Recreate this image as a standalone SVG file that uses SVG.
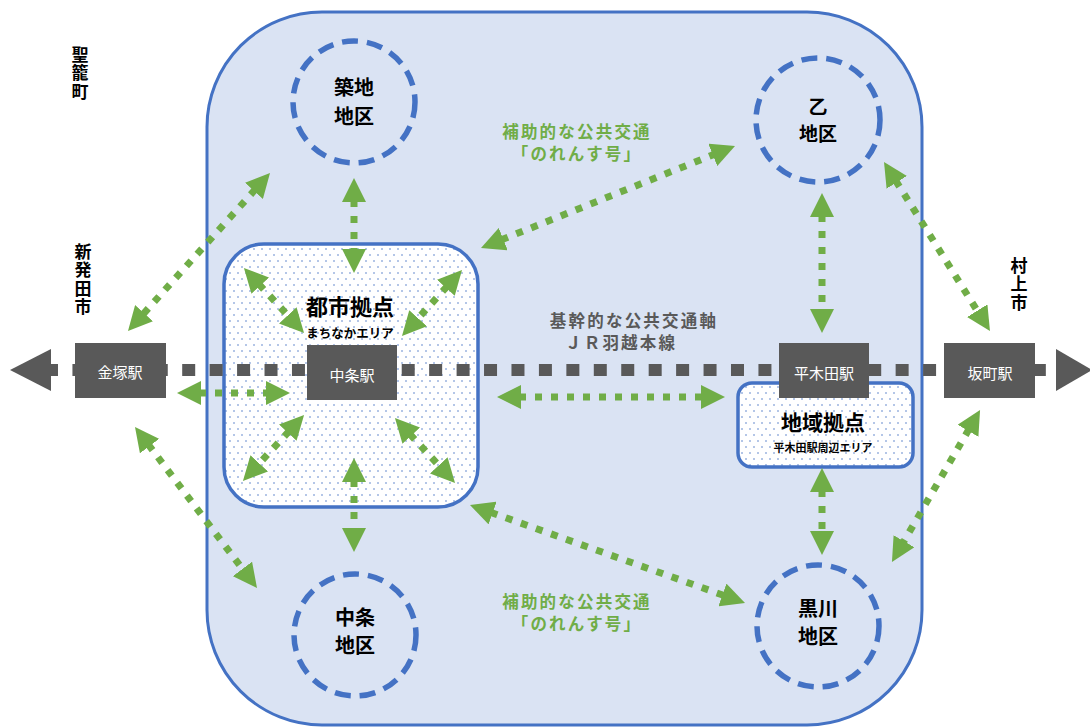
<svg xmlns="http://www.w3.org/2000/svg" width="1090" height="727" viewBox="0 0 1090 727">
<style>
.t{font-family:"Noto Sans CJK JP","Noto Sans",sans-serif;font-weight:bold;text-anchor:middle}
.blk{fill:#000}
.grn{fill:#70AD47}
.gry{fill:#595959}
.wht{fill:#fff;font-weight:normal}
.vt{writing-mode:vertical-rl;letter-spacing:1.5px}
.ls{letter-spacing:2.2px}
.area{fill:#DAE3F3;stroke:#4472C4;stroke-width:3}
.hub{fill:url(#dots);stroke:#4472C4;stroke-width:3.5}
.dist{fill:none;stroke:#4472C4;stroke-width:5.5;stroke-dasharray:16 9}
.stn{fill:#595959}
.ga{stroke:#70AD47;stroke-width:7;stroke-dasharray:7 9;fill:none;marker-start:url(#gh);marker-end:url(#gh)}
</style>
<defs>
<pattern id="dots" width="8" height="12" patternUnits="userSpaceOnUse">
<rect width="8" height="12" fill="#fff"/>
<circle cx="2" cy="3" r="0.75" fill="#4472C4"/>
<circle cx="6" cy="9" r="0.75" fill="#4472C4"/>
</pattern>
<marker id="gh" viewBox="0 0 24 24" markerUnits="userSpaceOnUse" markerWidth="24" markerHeight="24" refX="2" refY="12" orient="auto-start-reverse">
<path d="M0,0 L24,12 L0,24 z" fill="#70AD47"/>
</marker>
</defs>

<g id="city-area">
<rect class="area" x="207" y="12" width="715" height="713" rx="115"/>
</g>

<g id="toshi-kyoten">
<rect class="hub" x="224" y="244" width="254" height="263" rx="40"/>
<text class="t blk" x="350" y="315" font-size="22">都市拠点</text>
<text class="t blk" x="350" y="338" font-size="12.5">まちなかエリア</text>
</g>

<g id="chiiki-kyoten">
<rect class="hub" x="738" y="383" width="175" height="84" rx="14"/>
<text class="t blk" x="823" y="430" font-size="21">地域拠点</text>
<text class="t blk" x="823" y="452" font-size="11">平木田駅周辺エリア</text>
</g>

<g id="tsukiji">
<circle class="dist" cx="354" cy="102" r="61"/>
<text class="t blk" font-size="20"><tspan x="354" y="95">築地</tspan><tspan x="354" y="124">地区</tspan></text>
</g>
<g id="kinoto">
<circle class="dist" cx="818" cy="120" r="62"/>
<text class="t blk" font-size="19"><tspan x="818" y="114">乙</tspan><tspan x="818" y="141">地区</tspan></text>
</g>
<g id="nakajo-chiku">
<circle class="dist" cx="355" cy="635" r="61"/>
<text class="t blk" font-size="20"><tspan x="355" y="625">中条</tspan><tspan x="355" y="653">地区</tspan></text>
</g>
<g id="kurokawa">
<circle class="dist" cx="818" cy="626" r="61"/>
<text class="t blk" font-size="20"><tspan x="818" y="616">黒川</tspan><tspan x="818" y="644">地区</tspan></text>
</g>

<g id="rail">
<line x1="45" y1="370" x2="1058" y2="370" stroke="#595959" stroke-width="12" stroke-dasharray="13 14.44"/>
<polygon points="10,370 51,349 51,391" fill="#595959"/>
<polygon points="1092,370 1056,349 1056,391" fill="#595959"/>
</g>

<g id="kanazuka">
<rect class="stn" x="75" y="343" width="91" height="55"/>
<text class="t wht" x="120" y="378" font-size="15">金塚駅</text>
</g>
<g id="nakajo-eki">
<rect class="stn" x="307" y="345" width="90" height="55"/>
<text class="t wht" x="352" y="381" font-size="15">中条駅</text>
</g>
<g id="hirakida">
<rect class="stn" x="779" y="343" width="90" height="55"/>
<text class="t wht" x="824" y="379" font-size="15">平木田駅</text>
</g>
<g id="sakamachi">
<rect class="stn" x="944" y="343" width="91" height="55"/>
<text class="t wht" x="990" y="379" font-size="15">坂町駅</text>
</g>

<g id="connectors">
<line class="ga" x1="354" y1="200" x2="354" y2="251"/>
<line class="ga" x1="822" y1="215" x2="822" y2="311"/>
<line class="ga" x1="895.7" y1="180.6" x2="978.3" y2="312.4"/>
<line class="ga" x1="255.3" y1="189.4" x2="142.7" y2="314.6"/>
<line class="ga" x1="148.3" y1="444.5" x2="243.7" y2="570.5"/>
<line class="ga" x1="199" y1="393" x2="268" y2="393"/>
<line class="ga" x1="258.9" y1="284.2" x2="289.1" y2="316.8"/>
<line class="ga" x1="447.2" y1="286.3" x2="416.8" y2="319.7"/>
<line class="ga" x1="289.1" y1="431.2" x2="257.9" y2="464.8"/>
<line class="ga" x1="409.9" y1="434.2" x2="440.1" y2="466.8"/>
<line class="ga" x1="354" y1="480" x2="354" y2="530"/>
<line class="ga" x1="501.4" y1="239.8" x2="714.6" y2="154.2"/>
<line class="ga" x1="519" y1="397" x2="703" y2="397"/>
<line class="ga" x1="490.7" y1="512.4" x2="724.3" y2="595.6"/>
<line class="ga" x1="822" y1="490" x2="822" y2="533"/>
<line class="ga" x1="969" y1="429.1" x2="903" y2="542.9"/>
</g>

<g id="labels">
<text class="t blk vt" x="80" y="73.5" font-size="17">聖籠町</text>
<text class="t blk vt" x="83" y="280" font-size="17">新発田市</text>
<text class="t blk vt" x="1019" y="284.5" font-size="17">村上市</text>
<text class="t grn ls" font-size="16.5"><tspan x="577" y="138.3">補助的な公共交通</tspan><tspan x="577" y="160.3">「のれんす号」</tspan></text>
<text class="t grn ls" font-size="16.5"><tspan x="577" y="607.8">補助的な公共交通</tspan><tspan x="577" y="629.8">「のれんす号」</tspan></text>
<text class="t gry ls" font-size="16.5"><tspan x="634" y="327.3">基幹的な公共交通軸</tspan><tspan x="565" y="349.3" style="text-anchor:start">ＪＲ羽越本線</tspan></text>
</g>
</svg>
